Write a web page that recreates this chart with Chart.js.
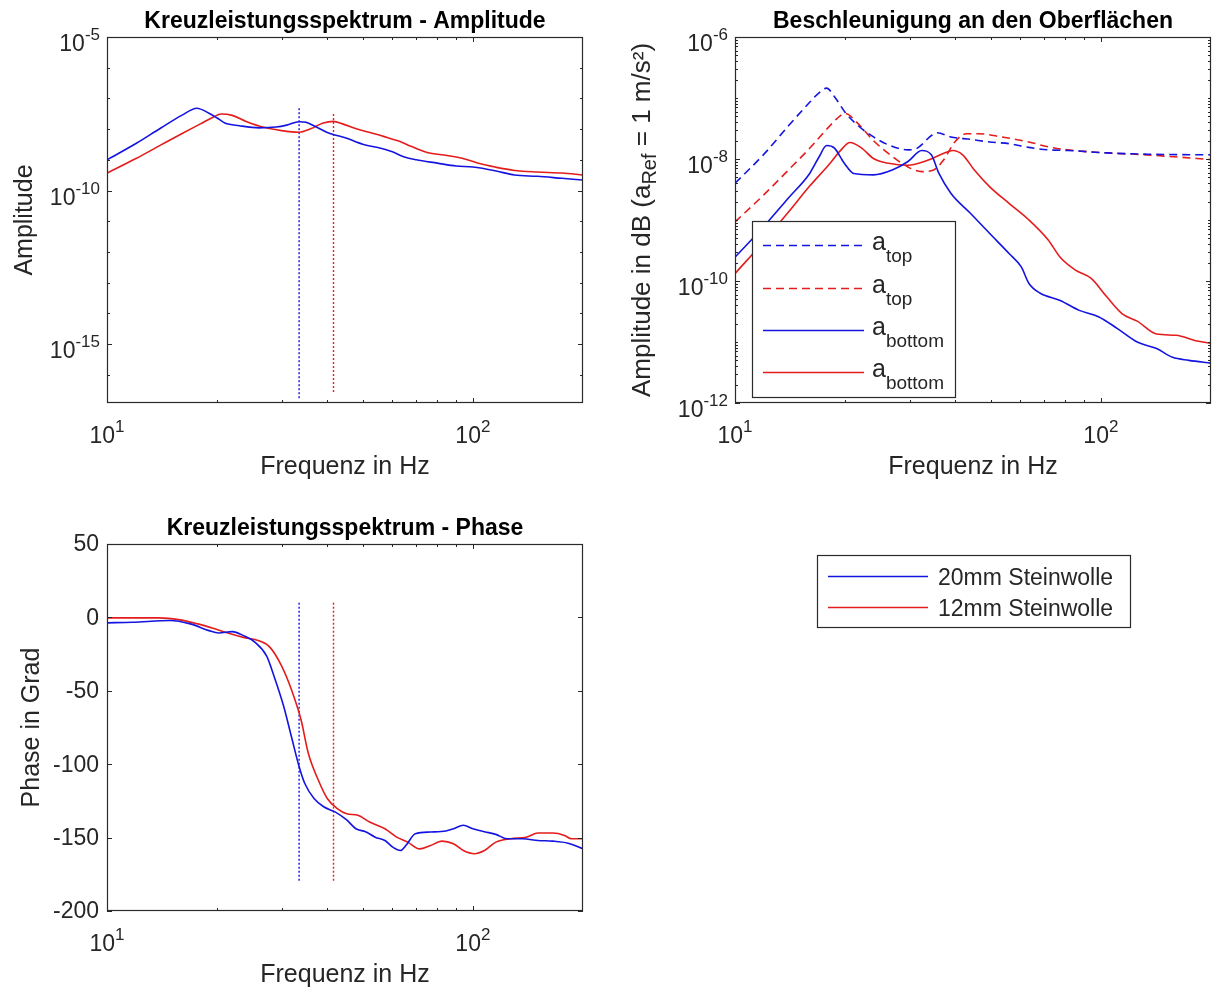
<!DOCTYPE html>
<html><head><meta charset="utf-8">
<script src="https://cdn.jsdelivr.net/npm/chart.js@4.4.0/dist/chart.umd.min.js"></script>
<style>
html,body{margin:0;padding:0;background:#fff;}
#wrap{position:relative;width:1213px;height:989px;overflow:hidden;background:#fff;}
canvas{position:absolute;left:0;top:0;}
</style></head><body>
<div id="wrap">
<canvas id="c1" width="1213" height="989"></canvas>
<canvas id="c2" width="1213" height="989"></canvas>
<canvas id="c3" width="1213" height="989"></canvas>
</div>
<script>
// ---------------- data ----------------
const seriesNames = ['20mm Steinwolle', '12mm Steinwolle'];

// Kreuzleistungsspektrum - Amplitude
const ampFreq20 = [10,12,14,16,17.6,19,20,21,23,26,29,31,33.5,35,37,40,45,50,55,60,65,70,80,90,100,115,130,150,175,200];
const ampVal20  = [1.0e-9,3.4e-9,1.07e-8,2.8e-8,4.8e-8,3.3e-8,2.3e-8,1.58e-8,1.29e-8,1.10e-8,1.17e-8,1.35e-8,1.74e-8,1.66e-8,1.23e-8,7.8e-9,5.1e-9,3.2e-9,2.5e-9,1.86e-9,1.23e-9,1.0e-9,7.8e-10,6.3e-10,5.8e-10,4.4e-10,3.2e-10,2.9e-10,2.5e-10,2.2e-10];
const ampFreq12 = [10,12,14,16,18,19.5,20.5,22,24,27,30,33.5,36,39,41.6,44,48,52,57,63,68,75,85,95,105,115,130,150,175,200];
const ampVal12  = [3.7e-10,1.1e-9,3.0e-9,7.1e-9,1.48e-8,2.45e-8,3.1e-8,2.8e-8,1.78e-8,1.12e-8,8.9e-9,7.9e-9,1.02e-8,1.58e-8,1.78e-8,1.48e-8,1.02e-8,7.9e-9,5.8e-9,4.0e-9,2.7e-9,1.74e-9,1.38e-9,1.07e-9,7.4e-10,5.8e-10,4.5e-10,4.0e-10,3.7e-10,3.2e-10];

// resonance marker lines (20mm, 12mm)
const resFreq      = [33.5, 41.6];
const ampMarkTop   = [4.8e-8, 3.1e-8];
const ampMarkBot   = [1.5e-17, 2.5e-17];
const phMarkTop    = [10, 10];
const phMarkBot    = [-180, -180];

// Beschleunigung an den Oberflächen
const topFreq20 = [10,12,14,16,17,17.8,18.7,20.1,21.6,23.9,26.3,29.7,31.5,34.5,35.7,38.9,44,49.7,56.2,63.6,71.8,81.2,103.8,132.7,200];
const topVal20  = [4.0e-9,1.2e-8,3.5e-8,8.5e-8,1.23e-7,1.45e-7,1.05e-7,5.6e-8,3.6e-8,2.3e-8,1.7e-8,1.41e-8,1.51e-8,2.45e-8,2.7e-8,2.3e-8,2.1e-8,1.9e-8,1.78e-8,1.55e-8,1.41e-8,1.38e-8,1.26e-8,1.2e-8,1.17e-8];
const topFreq12 = [10,12,14,16,18,19,20,21.6,23.9,26.9,29.7,32.4,34.9,37.1,39.9,42.9,46.2,53.5,63.6,71.8,81.2,103.8,132.7,200];
const topVal12  = [9.3e-10,2.6e-9,6.6e-9,1.5e-8,3.3e-8,4.6e-8,5.6e-8,3.9e-8,2.0e-8,1.1e-8,7.4e-9,6.2e-9,6.6e-9,9.5e-9,1.9e-8,2.6e-8,2.6e-8,2.3e-8,1.9e-8,1.58e-8,1.41e-8,1.26e-8,1.17e-8,9.8e-9];
const botFreq20 = [10,12,14,16,17,17.8,18.7,19.9,21.1,23.9,26.9,29.7,32.4,34.4,36.1,38.9,44,49.7,56.2,60.6,63.6,68.3,77.4,87.3,98.5,111,125.7,142,157,174,200];
const botVal20  = [2.45e-10,7.9e-10,2.3e-9,5.8e-9,1.1e-8,1.66e-8,1.51e-8,8.5e-9,5.8e-9,5.5e-9,6.6e-9,9.1e-9,1.38e-8,1.17e-8,5.8e-9,2.75e-9,1.29e-9,6.0e-10,2.8e-10,1.7e-10,9.1e-11,6.3e-11,4.8e-11,3.3e-11,2.6e-11,1.66e-11,1.0e-11,7.8e-12,5.6e-12,5.0e-12,4.5e-12];
const botFreq12 = [10,12,14,16,18,19.5,20.6,22.2,23.9,26.3,29.7,33.6,37.1,39.4,41.9,45.1,49.7,56.2,63.6,71.8,77.4,85.2,94.1,103.8,114.4,125.7,142,160.6,181.6,200];
const botVal12  = [1.32e-10,4.5e-10,1.35e-9,3.6e-9,7.9e-9,1.41e-8,1.86e-8,1.51e-8,1.02e-8,8.5e-9,7.9e-9,9.5e-9,1.23e-8,1.38e-8,1.17e-8,6.6e-9,3.5e-9,1.86e-9,1.0e-9,4.7e-10,2.45e-10,1.51e-10,1.1e-10,5.5e-11,2.9e-11,2.2e-11,1.35e-11,1.29e-11,1.05e-11,9.5e-12];
const accLegendBase = ['a','a','a','a'];
const accLegendSub  = ['top','top','bottom','bottom'];

// Kreuzleistungsspektrum - Phase
const phFreq20 = [10,11.75,14.9,16.9,19.0,20.2,22.0,23.6,25.4,27.3,28.6,30.4,31.9,33.5,34.7,36.8,39.1,42,45.2,47.9,50.9,54.1,57.5,60.4,63.4,65.6,69.6,76.6,84.4,88.5,94.2,100,107.6,115.6,124,136.9,150.6,165.6,182,200];
const phVal20  = [-3.7,-3.3,-2.1,-4.4,-9.0,-10.6,-9.7,-12.4,-17.0,-26.2,-39.9,-60.5,-81.0,-101.6,-113,-123.4,-129,-132.5,-138,-144,-146,-149.7,-152,-156.5,-158.8,-155.4,-147.4,-146.2,-145.5,-144,-141.6,-144,-146,-147.8,-150.8,-150.8,-152,-152.4,-153.8,-157.6];
const phFreq12 = [10,13.9,15.7,17.7,19.5,21.5,23.6,26,27.9,30,31.9,33.9,35.5,37.8,40,42.6,45.2,48.5,52.2,57.5,61.9,66.4,71.5,76.6,82.4,88.5,94.2,101,107.6,115.6,127,140,150.6,165.6,178,186,200];
const phVal12  = [-0.3,-0.3,-1.5,-4.4,-7.4,-10.8,-13.6,-15.9,-20.4,-33,-49,-69.6,-92.5,-110.8,-123.4,-130.2,-133.7,-134.8,-139.4,-144,-149.7,-153.1,-157.7,-155.4,-152.4,-154.2,-158.8,-161,-158.8,-153.1,-150.8,-149.7,-146.9,-146.9,-148.5,-150.8,-150.8];

// ticks
const freqRange   = [10, 200];
const xMajor      = [10, 100];
const xMajorExp   = ['1', '2'];
const xMinor      = [20, 30, 40, 50, 60, 70, 80, 90];
const ampRange    = [1.2e-17, 1e-5];
const ampMajor    = [1e-5, 1e-10, 1e-15];
const ampMajorExp = ['-5', '-10', '-15'];
const ampMinor    = [1e-6,1e-7,1e-8,1e-9,1e-11,1e-12,1e-13,1e-14,1e-16];
const accRange    = [1e-12, 1e-6];
const accMajor    = [1e-6, 1e-8, 1e-10, 1e-12];
const accMajorExp = ['-6', '-8', '-10', '-12'];
const accMinorMant = [2,3,4,5,6,7,8,9];
const accDecades  = [1e-12, 1e-11, 1e-10, 1e-9, 1e-8, 1e-7];
const phRange     = [-200, 50];
const phMajor     = [50, 0, -50, -100, -150, -200];

// ---------------- styling ----------------
const W = 1213, H = 989;
const FONT = '"Liberation Sans", Arial, Helvetica, sans-serif';
const INK = '#262626';
const BLUE = '#1414e0', RED = '#e41c1c';
const TICK_FS = 23, SUP_FS = 17, SUP_RAISE = 11, LABEL_FS = 25, TITLE_FS = 23;

function pts(xs, ys) { return xs.map((x, i) => ({x: x, y: ys[i]})); }
function ds(data, color, dash, width) {
  return {data: data, borderColor: color, backgroundColor: color, borderWidth: width || 1.6,
          borderDash: dash || [], pointRadius: 0, fill: false, cubicInterpolationMode: 'monotone'};
}
function markerDs(i, tops, bots, color) {
  return {data: [{x: resFreq[i], y: tops[i]}, {x: resFreq[i], y: bots[i]}], borderColor: color,
          borderWidth: 1.4, borderDash: [2, 2], pointRadius: 0, fill: false, tension: 0};
}

function drawExp(ctx, base, exp, x, yBase, align) {
  ctx.font = TICK_FS + 'px ' + FONT; const wb = ctx.measureText(base).width;
  ctx.font = SUP_FS + 'px ' + FONT; const we = ctx.measureText(exp).width;
  const x0 = align === 'right' ? x - wb - we : x - (wb + we) / 2;
  ctx.textAlign = 'left'; ctx.textBaseline = 'alphabetic';
  ctx.font = TICK_FS + 'px ' + FONT; ctx.fillText(base, x0, yBase);
  ctx.font = SUP_FS + 'px ' + FONT; ctx.fillText(exp, x0 + wb, yBase - SUP_RAISE);
}

function drawRotated(ctx, pieces, cx, cy) {
  ctx.save();
  ctx.translate(cx, cy); ctx.rotate(-Math.PI / 2);
  let total = 0;
  pieces.forEach(p => { ctx.font = p.size + 'px ' + FONT; p.w = ctx.measureText(p.t).width; total += p.w; });
  let x = -total / 2;
  ctx.textAlign = 'left'; ctx.textBaseline = 'alphabetic'; ctx.fillStyle = INK;
  pieces.forEach(p => { ctx.font = p.size + 'px ' + FONT; ctx.fillText(p.t, x, 9 + (p.dy || 0)); x += p.w; });
  ctx.restore();
}

function decoPlugin(cfg) {
  return {
    id: 'deco',
    afterDraw(chart) {
      const ctx = chart.ctx, a = chart.chartArea, xs = chart.scales.x, ys = chart.scales.y;
      const l = a.left, r = a.right, t = a.top, b = a.bottom;
      ctx.save();
      ctx.strokeStyle = INK; ctx.lineWidth = 1;
      const vt = (v, len) => { const p = Math.round(xs.getPixelForValue(v)) + 0.5;
        ctx.beginPath(); ctx.moveTo(p, b); ctx.lineTo(p, b - len); ctx.moveTo(p, t); ctx.lineTo(p, t + len); ctx.stroke(); };
      const ht = (v, len) => { const p = Math.round(ys.getPixelForValue(v)) + 0.5;
        ctx.beginPath(); ctx.moveTo(l, p); ctx.lineTo(l + len, p); ctx.moveTo(r, p); ctx.lineTo(r - len, p); ctx.stroke(); };
      xMajor.forEach(v => vt(v, 5));
      xMinor.forEach(v => vt(v, 3));
      cfg.yMajor.forEach(v => ht(v, 5));
      cfg.yMinor.forEach(v => ht(v, 3));
      // box
      ctx.lineWidth = 1.2; ctx.strokeStyle = '#2a2a2a';
      ctx.strokeRect(l + 0.5, t + 0.5, r - l - 1, b - t - 1);
      // tick labels
      ctx.fillStyle = INK;
      xMajor.forEach((v, i) => drawExp(ctx, '10', xMajorExp[i], xs.getPixelForValue(v), b + 40, 'center'));
      if (cfg.yExp) {
        cfg.yMajor.forEach((v, i) => drawExp(ctx, '10', cfg.yExp[i], l - 7, ys.getPixelForValue(v) + 14, 'right'));
      } else {
        ctx.font = TICK_FS + 'px ' + FONT; ctx.textAlign = 'right'; ctx.textBaseline = 'middle';
        cfg.yMajor.forEach(v => ctx.fillText(String(v), l - 8, ys.getPixelForValue(v) + 1));
      }
      // x label
      ctx.font = LABEL_FS + 'px ' + FONT; ctx.textAlign = 'center'; ctx.textBaseline = 'middle';
      ctx.fillText('Frequenz in Hz', (l + r) / 2, b + 64);
      // y label
      drawRotated(ctx, cfg.yLabel, cfg.yLabelX, (t + b) / 2);
      // title
      ctx.fillStyle = '#000'; ctx.font = 'bold ' + TITLE_FS + 'px ' + FONT;
      ctx.textAlign = 'center'; ctx.textBaseline = 'alphabetic';
      ctx.fillText(cfg.title, (l + r) / 2, t - 9);
      if (cfg.extra) cfg.extra(ctx, chart);
      ctx.restore();
    }
  };
}

function makeChart(id, area, yType, yRange, datasets, cfg) {
  return new Chart(document.getElementById(id), {
    type: 'line',
    data: {datasets: datasets},
    options: {
      responsive: false, animation: false, devicePixelRatio: 1,
      layout: {padding: {left: area.l, top: area.t, right: W - area.r, bottom: H - area.b}},
      plugins: {legend: {display: false}, tooltip: {enabled: false}, title: {display: false}},
      scales: {
        x: {type: 'logarithmic', min: freqRange[0], max: freqRange[1], display: false},
        y: {type: yType, min: yRange[0], max: yRange[1], display: false}
      }
    },
    plugins: [decoPlugin(cfg)]
  });
}

// ---------- chart 1 ----------
makeChart('c1', {l: 107, t: 37, r: 583, b: 403}, 'logarithmic', ampRange, [
  ds(pts(ampFreq20, ampVal20), BLUE),
  ds(pts(ampFreq12, ampVal12), RED),
  markerDs(0, ampMarkTop, ampMarkBot, BLUE),
  markerDs(1, ampMarkTop, ampMarkBot, RED)
], {
  title: 'Kreuzleistungsspektrum - Amplitude',
  yMajor: ampMajor, yExp: ampMajorExp, yMinor: ampMinor,
  yLabel: [{t: 'Amplitude', size: LABEL_FS}], yLabelX: 23
});

// ---------- chart 2 ----------
const accMinor = [];
accDecades.forEach(d => accMinor.push(d));
accDecades.forEach(d => accMinorMant.forEach(m => accMinor.push(m * d)));
makeChart('c2', {l: 735, t: 37, r: 1211, b: 403}, 'logarithmic', accRange, [
  ds(pts(topFreq20, topVal20), BLUE, [8, 5]),
  ds(pts(topFreq12, topVal12), RED, [8, 5]),
  ds(pts(botFreq20, botVal20), BLUE),
  ds(pts(botFreq12, botVal12), RED)
], {
  title: 'Beschleunigung an den Oberflächen',
  yMajor: accMajor, yExp: accMajorExp, yMinor: accMinor,
  yLabel: [{t: 'Amplitude in dB (a', size: 26}, {t: 'Ref', size: 20, dy: 6}, {t: ' = 1 m/s²)', size: 26}],
  yLabelX: 641,
  extra: function (ctx, chart) {
    const bx = 752, by = 221, bw = 203, bh = 176;
    ctx.fillStyle = '#fff'; ctx.fillRect(bx, by, bw, bh);
    ctx.strokeStyle = '#2a2a2a'; ctx.lineWidth = 1.2; ctx.setLineDash([]);
    ctx.strokeRect(bx + 0.5, by + 0.5, bw, bh);
    const ys = [245, 288, 330, 372];
    chart.data.datasets.forEach((d, i) => {
      ctx.strokeStyle = d.borderColor; ctx.lineWidth = 1.6; ctx.setLineDash(d.borderDash);
      ctx.beginPath(); ctx.moveTo(763, ys[i] + 0.5); ctx.lineTo(864, ys[i] + 0.5); ctx.stroke();
      ctx.setLineDash([]);
      ctx.fillStyle = INK; ctx.textAlign = 'left'; ctx.textBaseline = 'alphabetic';
      ctx.font = '25px ' + FONT; ctx.fillText(accLegendBase[i], 872, ys[i] + 5);
      const wa = ctx.measureText(accLegendBase[i]).width;
      ctx.font = '19px ' + FONT; ctx.fillText(accLegendSub[i], 872 + wa, ys[i] + 17);
    });
  }
});

// ---------- chart 3 ----------
makeChart('c3', {l: 107, t: 544, r: 583, b: 911}, 'linear', phRange, [
  ds(pts(phFreq20, phVal20), BLUE),
  ds(pts(phFreq12, phVal12), RED),
  markerDs(0, phMarkTop, phMarkBot, BLUE),
  markerDs(1, phMarkTop, phMarkBot, RED)
], {
  title: 'Kreuzleistungsspektrum - Phase',
  yMajor: phMajor, yMinor: [],
  yLabel: [{t: 'Phase in Grad', size: LABEL_FS}], yLabelX: 30,
  extra: function (ctx, chart) {
    const bx = 817, by = 555, bw = 313, bh = 72;
    ctx.fillStyle = '#fff'; ctx.fillRect(bx, by, bw, bh);
    ctx.strokeStyle = '#2a2a2a'; ctx.lineWidth = 1.2;
    ctx.strokeRect(bx + 0.5, by + 0.5, bw, bh);
    const ly = [576, 607];
    [BLUE, RED].forEach((c, i) => {
      ctx.strokeStyle = c; ctx.lineWidth = 1.6;
      ctx.beginPath(); ctx.moveTo(828, ly[i] + 0.5); ctx.lineTo(928, ly[i] + 0.5); ctx.stroke();
      ctx.fillStyle = INK; ctx.font = '23px ' + FONT; ctx.textAlign = 'left'; ctx.textBaseline = 'middle';
      ctx.fillText(seriesNames[i], 938, ly[i] + 3);
    });
  }
});
</script>
</body></html>
